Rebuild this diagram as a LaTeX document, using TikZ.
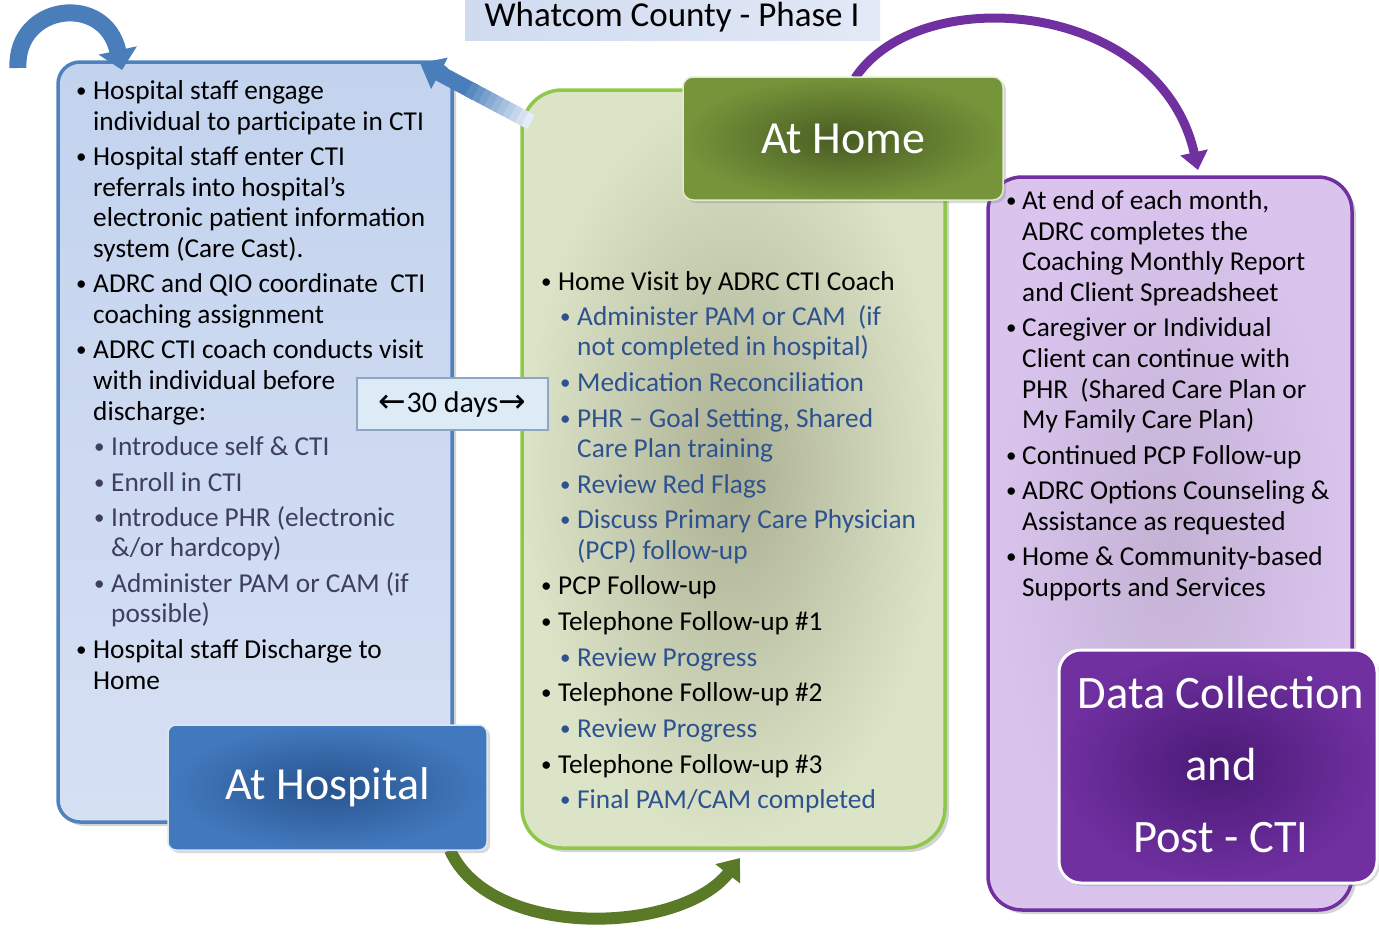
\documentclass[tikz,border=0pt]{standalone}
\usepackage{fontspec}
\setmainfont{Carlito}
\newfontfamily\arrowfont{DejaVu Sans}
\usetikzlibrary{arrows.meta,shadows,calc}
\definecolor{hospblue}{HTML}{4F81BD}
\definecolor{arrblue}{HTML}{4A7EBB}
\definecolor{arrpale}{HTML}{E4ECF7}
\definecolor{homegreen}{HTML}{8FC74A}
\definecolor{arrgreen}{HTML}{5A7A28}
\definecolor{postpurple}{HTML}{7030A0}
\definecolor{subgray}{HTML}{3E3E60}
\definecolor{subblue}{HTML}{2D5290}
\begin{document}
\begin{tikzpicture}[x=1pt,y=-1pt,
  txt/.style={anchor=base west, inner sep=0pt, font=\fontsize{27.3}{31}\selectfont},
  dot/.style={anchor=base west, inner sep=0pt, font=\fontsize{21}{24}\selectfont},
  subL/.style={txt, text=subgray},
  subM/.style={txt, text=subblue},
  dotL/.style={dot, text=subgray},
  dotM/.style={dot, text=subblue},
  panel/.style={rectangle, line width=3.5pt, inner sep=0pt,
    drop shadow={shadow xshift=4pt, shadow yshift=-4pt, opacity=0.35}},
  tag/.style={rectangle, inner sep=0pt, text=white, align=center,
    font=\fontsize{46}{72}\selectfont,
    drop shadow={shadow xshift=3pt, shadow yshift=-3pt, opacity=0.3}},
  bigarrow/.style={line cap=butt}
]
\useasboundingbox (0,0) rectangle (1379,938);

% ---------- title ----------
\node[rectangle, inner sep=0pt, minimum width=415pt, minimum height=46pt,
      left color={rgb,255:red,208;green,219;blue,240}, right color={rgb,255:red,226;green,233;blue,246}]
      (title) at (672.5,17) {};
\node[inner sep=0pt, anchor=base, font=\fontsize{35}{40}\selectfont] (titletxt) at (672,26) {Whatcom County - Phase I};

% ---------- left panel: at hospital ----------
\node[panel, draw=hospblue, rounded corners=22pt, minimum width=394pt, minimum height=760pt,
      top color={rgb,255:red,195;green,211;blue,238}, bottom color={rgb,255:red,214;green,224;blue,243}]
      (hosp) at (255,442) {};

% ---------- middle panel: at home ----------
\node[panel, draw=homegreen, rounded corners=40pt, minimum width=423pt, minimum height=758pt,
      inner color={rgb,255:red,172;green,176;blue,146}, outer color={rgb,255:red,220;green,228;blue,200}]
      (home) at (733.5,469) {};

% ---------- right panel: data collection ----------
\node[panel, draw=postpurple, rounded corners=34pt, minimum width=364pt, minimum height=733pt,
      inner color={rgb,255:red,196;green,178;blue,212}, outer color={rgb,255:red,218;green,196;blue,238}]
      (post) at (1170,543.5) {};

% ---------- connectors ----------
% loop back into the hospital stage
\coordinate (a1s) at (18,68);
\coordinate (a1e) at (122,70);
\draw[bigarrow, line width=17pt, color=arrblue, -{Triangle[length=20pt,width=38pt]}]
  (a1s) .. controls (15,4) and (105,-8) .. (a1e);

% return from home to hospital (shaded shaft)
\coordinate (a2s) at (531,122);
\coordinate (a2e) at (420,63);
\draw[bigarrow, line width=16pt, color=arrblue, -{Triangle[length=22pt,width=34pt]}] ($(a2s)!0.5!(a2e)$) -- (a2e);
\foreach \i in {0,...,9}{
  \pgfmathtruncatemacro\pc{\i*10}
  \draw[bigarrow, line width=16pt, color=arrblue!\pc!arrpale]
    ($(a2s)!\i/18!(a2e)$) -- ($(a2s)!\i/18+1/18+0.005!(a2e)$);
}

% home to data collection
\coordinate (a3s) at (855,78);
\coordinate (a3e) at (1198,170);
\draw[bigarrow, line width=9pt, color=postpurple, -{Triangle[length=18pt,width=27pt]}]
  (a3s) .. controls (920,-20) and (1160,0) .. (a3e);

% hospital to home
\coordinate (a4s) at (450,850);
\coordinate (a4e) at (740,858);
\draw[bigarrow, line width=12pt, color=arrgreen, -{Triangle[length=20pt,width=30pt]}]
  (a4s) .. controls (490,940) and (680,935) .. (a4e);

% ---------- stage tags ----------
\node[tag, draw={rgb,255:red,220;green,230;blue,245}, line width=1.5pt, rounded corners=8pt,
      minimum width=319pt, minimum height=125pt,
      inner color={rgb,255:red,40;green,84;blue,142}, outer color={rgb,255:red,66;green,121;blue,190}]
      (hosptag) at (327.5,787.5) {At Hospital};
\node[tag, draw={rgb,255:red,225;green,235;blue,205}, line width=1.5pt, rounded corners=10pt,
      minimum width=320pt, minimum height=123pt,
      inner color={rgb,255:red,72;green,92;blue,34}, outer color={rgb,255:red,118;green,148;blue,58}]
      (hometag) at (843,138.5) {At Home};
\node[tag, draw=white, line width=3pt, rounded corners=22pt,
      minimum width=318pt, minimum height=233pt,
      inner color={rgb,255:red,74;green,26;blue,118}, outer color={rgb,255:red,112;green,48;blue,160}]
      (posttag) at (1218,766.5) {};
\node[inner sep=0pt, text=white, font=\fontsize{46.5}{50}\selectfont] (pt1) at (1221,693) {Data Collection};
\node[inner sep=0pt, text=white, font=\fontsize{46.5}{50}\selectfont] (pt2) at (1221,765) {and};
\node[inner sep=0pt, text=white, font=\fontsize{46.5}{50}\selectfont] (pt3) at (1221,838) {Post - CTI};

% ---------- 30 days ----------
\node[rectangle, draw={rgb,255:red,140;green,166;blue,196}, line width=1.2pt,
      fill={rgb,255:red,221;green,235;blue,247}, minimum width=191pt, minimum height=52pt, inner sep=0pt,
      font=\fontsize{30}{34}\selectfont]
      (days) at (452.5,404) {{\arrowfont\fontsize{33}{36}\selectfont ←}30 days{\arrowfont\fontsize{33}{36}\selectfont →}};

% ---------- text: at hospital ----------
\node[dot] (hb1) at (76,97) {\textbullet};
\node[txt] (h1) at (93,99) {Hospital staff engage};
\node[txt] (h2) at (93,130) {individual to participate in CTI};
\node[dot] (hb2) at (76,163) {\textbullet};
\node[txt] (h3) at (93,165) {Hospital staff enter CTI};
\node[txt] (h4) at (93,196) {referrals into hospital’s};
\node[txt] (h5) at (93,226) {electronic patient information};
\node[txt] (h6) at (93,257) {system (Care Cast).};
\node[dot] (hb3) at (76,290) {\textbullet};
\node[txt] (h7) at (93,292) {ADRC and QIO coordinate\ \ CTI};
\node[txt] (h8) at (93,323) {coaching assignment};
\node[dot] (hb4) at (76,356) {\textbullet};
\node[txt] (h9) at (93,358) {ADRC CTI coach conducts visit};
\node[txt] (h10) at (93,389) {with individual before};
\node[txt] (h11) at (93,420) {discharge:};
\node[dotL] (hs1b) at (94,453) {\textbullet};
\node[subL] (hs1) at (111,455) {Introduce self \& CTI};
\node[dotL] (hs2b) at (94,489) {\textbullet};
\node[subL] (hs2) at (111,491) {Enroll in CTI};
\node[dotL] (hs3b) at (94,524) {\textbullet};
\node[subL] (hs3) at (111,526) {Introduce PHR (electronic};
\node[subL] (hs4) at (111,556) {\&/or hardcopy)};
\node[dotL] (hs5b) at (94,590) {\textbullet};
\node[subL] (hs5) at (111,592) {Administer PAM or CAM (if};
\node[subL] (hs6) at (111,622) {possible)};
\node[dot] (hb5) at (76,656) {\textbullet};
\node[txt] (h12) at (93,658) {Hospital staff Discharge to};
\node[txt] (h13) at (93,689) {Home};

% ---------- text: at home ----------
\node[dot] (mb1) at (541,288) {\textbullet};
\node[txt] (m1) at (558,290) {Home Visit by ADRC CTI Coach};
\node[dotM] (ms1b) at (560,323) {\textbullet};
\node[subM] (m2) at (577,325) {Administer PAM or CAM\ \ (if};
\node[subM] (m3) at (577,355) {not completed in hospital)};
\node[dotM] (ms2b) at (560,389) {\textbullet};
\node[subM] (m4) at (577,391) {Medication Reconciliation};
\node[dotM] (ms3b) at (560,425) {\textbullet};
\node[subM] (m5) at (577,427) {PHR – Goal Setting, Shared};
\node[subM] (m6) at (577,457) {Care Plan training};
\node[dotM] (ms4b) at (560,491) {\textbullet};
\node[subM] (m7) at (577,493) {Review Red Flags};
\node[dotM] (ms5b) at (560,526) {\textbullet};
\node[subM] (m8) at (577,528) {Discuss Primary Care Physician};
\node[subM] (m9) at (577,559) {(PCP) follow-up};
\node[dot] (mb2) at (541,592) {\textbullet};
\node[txt] (m10) at (558,594) {PCP Follow-up};
\node[dot] (mb3) at (541,628) {\textbullet};
\node[txt] (m11) at (558,630) {Telephone Follow-up \#1};
\node[dotM] (ms6b) at (560,664) {\textbullet};
\node[subM] (m12) at (577,666) {Review Progress};
\node[dot] (mb4) at (541,699) {\textbullet};
\node[txt] (m13) at (558,701) {Telephone Follow-up \#2};
\node[dotM] (ms7b) at (560,735) {\textbullet};
\node[subM] (m14) at (577,737) {Review Progress};
\node[dot] (mb5) at (541,771) {\textbullet};
\node[txt] (m15) at (558,773) {Telephone Follow-up \#3};
\node[dotM] (ms8b) at (560,806) {\textbullet};
\node[subM] (m16) at (577,808) {Final PAM/CAM completed};

% ---------- text: data collection ----------
\node[dot] (rb1) at (1006,207) {\textbullet};
\node[txt] (r1) at (1022,209) {At end of each month,};
\node[txt] (r2) at (1022,240) {ADRC completes the};
\node[txt] (r3) at (1022,270) {Coaching Monthly Report};
\node[txt] (r4) at (1022,301) {and Client Spreadsheet};
\node[dot] (rb2) at (1006,334) {\textbullet};
\node[txt] (r5) at (1022,336) {Caregiver or Individual};
\node[txt] (r6) at (1022,367) {Client can continue with};
\node[txt] (r7) at (1022,398) {PHR\ \ (Shared Care Plan or};
\node[txt] (r8) at (1022,428) {My Family Care Plan)};
\node[dot] (rb3) at (1006,462) {\textbullet};
\node[txt] (r9) at (1022,464) {Continued PCP Follow-up};
\node[dot] (rb4) at (1006,497) {\textbullet};
\node[txt] (r10) at (1022,499) {ADRC Options Counseling \&};
\node[txt] (r11) at (1022,530) {Assistance as requested};
\node[dot] (rb5) at (1006,563) {\textbullet};
\node[txt] (r12) at (1022,565) {Home \& Community-based};
\node[txt] (r13) at (1022,596) {Supports and Services};
\end{tikzpicture}
\end{document}
